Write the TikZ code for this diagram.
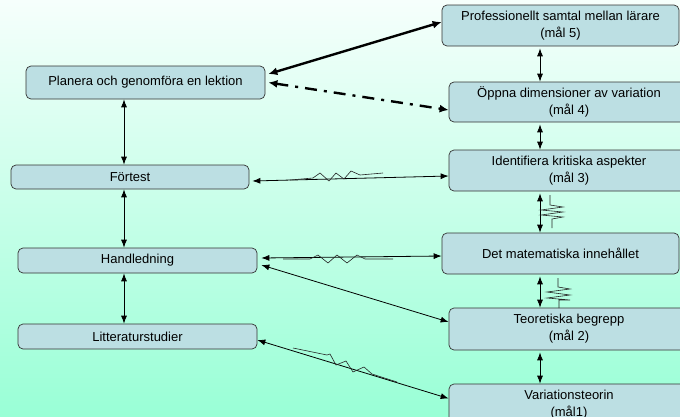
\documentclass[tikz,border=0pt]{standalone}
\usepackage{fontspec}
\setmainfont{Liberation Sans}
\usetikzlibrary{arrows.meta, positioning}
\definecolor{boxfill}{HTML}{BCDFE3}
\definecolor{bgtop}{HTML}{F6FFFC}
\definecolor{bgbottom}{HTML}{99FFD6}

\begin{document}
\begin{tikzpicture}[x=1pt,y=-1pt,
 box/.style={draw=black!80,fill=boxfill,rounded corners=5pt,line width=0.7pt,
   inner sep=0pt,align=center,font=\fontsize{13}{17}\selectfont},
 link/.style={line width=0.8pt,{Latex[length=8pt,width=6pt]}-{Latex[length=8pt,width=6pt]}},
 heavy/.style={line width=2.4pt,{Latex[length=9pt,width=8pt]}-{Latex[length=9pt,width=8pt]}},
 spring/.style={line width=0.6pt,black!85}]

  \useasboundingbox (0,0) rectangle (680,416);
  \clip (0,0) rectangle (680,416);
  \shade[top color=bgtop,bottom color=bgbottom] (0,0) rectangle (680,416);

  % left column
  \node[box,minimum width=239pt,minimum height=33pt] (plan) at (145.5,82.5) {Planera och genomföra en lektion};
  \node[box,minimum width=238pt,minimum height=24pt] (fort) at (130,177) {Förtest};
  \node[box,minimum width=239pt,minimum height=25pt] (hand) at (137.5,260.5) {Handledning};
  \node[box,minimum width=239pt,minimum height=25pt] (litt) at (137.5,336.5) {Litteraturstudier};

  % right column
  \node[box,minimum width=237pt,minimum height=41pt] (prof) at (560.5,25.5) {Professionellt samtal mellan lärare\\(mål 5)};
  \node[box,minimum width=240pt,minimum height=40pt] (oppna) at (569,102) {Öppna dimensioner av variation\\(mål 4)};
  \node[box,minimum width=240pt,minimum height=41pt] (ident) at (569,170.5) {Identifiera kritiska aspekter\\(mål 3)};
  \node[box,minimum width=237pt,minimum height=41pt] (mat) at (560.5,253.5) {Det matematiska innehållet};
  \node[box,minimum width=240pt,minimum height=42pt] (teo) at (569,329) {Teoretiska begrepp\\(mål 2)};
  \node[box,minimum width=240pt,minimum height=41pt] (var) at (569,404.5) {Variationsteorin\\(mål1)};

  \coordinate (lx) at (124,0);
  \coordinate (rx) at (540,0);

  \foreach \a/\b in {plan/fort, fort/hand, hand/litt} {
   \draw[link] (lx |- \a.south) -- (lx |- \b.north);}
  \foreach \a/\b in {prof/oppna, oppna/ident, ident/mat, mat/teo, teo/var} {
   \draw[link] ([yshift=-2pt]rx |- \a.south) -- (rx |- \b.north);}

  \draw[heavy] ([shift={(3pt,8.5pt)}]plan.east) -- ([yshift=3.5pt]prof.west);
  \draw[heavy,dash pattern=on 12pt off 7pt on 3pt off 7pt] ([xshift=3pt]plan.east) -- ([yshift=-8pt]oppna.west);

  \draw[link] ([shift={(3pt,-4pt)}]fort.east) -- ([yshift=-5.5pt]ident.west);
  \draw[link] ([shift={(4pt,2.5pt)}]hand.east) -- ([yshift=-2.5pt]mat.west);
  \draw[link] ([shift={(4pt,-4.5pt)}]hand.east) -- ([yshift=7pt]teo.west);
  \draw[link] ([yshift=-3.5pt]litt.east) -- ([yshift=6pt]var.west);

  % springs
  \draw[spring] (290,180) -- (313,178) -- (320,173) -- (329,181) -- (336,173) -- (344,179) -- (351,171) -- (360,175) -- (383,173);
  \draw[spring] (283,259) -- (310,259) -- (318,255) -- (328,263) -- (337,255) -- (347,263) -- (357,255) -- (365,259) -- (393,259);
  \draw[spring] (293,348) -- (327,355) -- (330,354) -- (336,365) -- (346,361) -- (353,372) -- (364,367) -- (372,374) -- (397,382);
  \draw[spring] (550,195) -- (550,205) -- (563,207) -- (541,210) -- (563,212) -- (541,215) -- (563,217) -- (552,219) -- (552,228);
  \draw[spring] (558,278) -- (558,287) -- (570,289) -- (547,292) -- (570,295) -- (547,298) -- (570,300) -- (559,300) -- (559,308);

\end{tikzpicture}
\end{document}
